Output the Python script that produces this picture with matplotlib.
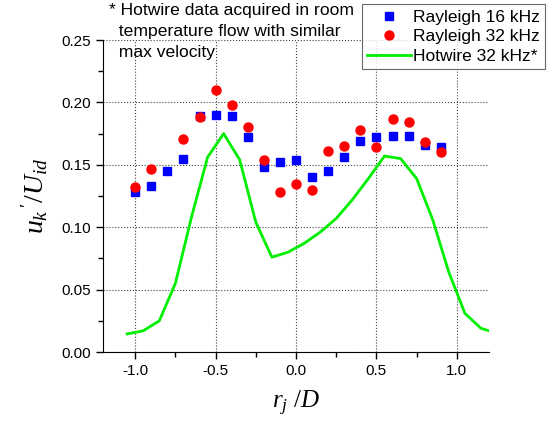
import matplotlib
matplotlib.use("Agg")
import matplotlib.pyplot as plt
import numpy as np
from matplotlib.ticker import MultipleLocator

plt.rcParams['font.family'] = ['Liberation Sans', 'DejaVu Sans']
plt.rcParams['mathtext.fontset'] = 'custom'
plt.rcParams['mathtext.rm'] = 'Liberation Serif'
plt.rcParams['mathtext.it'] = 'Liberation Serif:italic'

# Rayleigh 16 kHz (blue squares)
r16_x = [-1.0, -0.9, -0.8, -0.7, -0.6, -0.5, -0.4, -0.3, -0.2, -0.1,
         0.0, 0.1, 0.2, 0.3, 0.4, 0.5, 0.6, 0.7, 0.8, 0.9]
r16_y = [0.128, 0.133, 0.145, 0.155, 0.189, 0.190, 0.189, 0.172, 0.148, 0.152,
         0.154, 0.140, 0.145, 0.156, 0.169, 0.172, 0.173, 0.173, 0.166, 0.164]

# Rayleigh 32 kHz (red circles)
r32_x = [-1.0, -0.9, -0.7, -0.6, -0.5, -0.4, -0.3, -0.2, -0.1,
         0.0, 0.1, 0.2, 0.3, 0.4, 0.5, 0.6, 0.7, 0.8, 0.9]
r32_y = [0.132, 0.147, 0.171, 0.188, 0.210, 0.198, 0.180, 0.154, 0.128,
         0.135, 0.130, 0.161, 0.165, 0.178, 0.164, 0.187, 0.184, 0.168, 0.160]

# Hotwire 32 kHz (green line)
hw_x = [-1.05, -0.95, -0.85, -0.75, -0.65, -0.55, -0.45, -0.35, -0.25, -0.15,
        -0.05, 0.05, 0.15, 0.25, 0.35, 0.45, 0.55, 0.65, 0.75, 0.85,
        0.95, 1.05, 1.15, 1.2]
hw_y = [0.0145, 0.017, 0.025, 0.055, 0.108, 0.156, 0.175, 0.154, 0.104, 0.076,
        0.080, 0.087, 0.096, 0.107, 0.122, 0.139, 0.157, 0.155, 0.139, 0.106,
        0.064, 0.031, 0.019, 0.017]

fig = plt.figure(figsize=(5.47, 4.23), dpi=100)
ax = fig.add_axes([0.1883, 0.1678, 0.7057, 0.7376])

ax.plot(r16_x, r16_y, 's', color='#0000ff', markersize=6, label='Rayleigh 16 kHz', zorder=3)
ax.plot(r32_x, r32_y, 'o', color='#ff0000', markersize=6.5, label='Rayleigh 32 kHz', zorder=3)
ax.plot(hw_x, hw_y, '-', color='#00ee00', linewidth=2, label='Hotwire 32 kHz*', zorder=2)

ax.set_xlim(-1.2, 1.2)
ax.set_ylim(0, 0.25)
ax.xaxis.set_minor_locator(MultipleLocator(0.25))
ax.yaxis.set_major_locator(MultipleLocator(0.05))
ax.yaxis.set_minor_locator(MultipleLocator(0.025))
ax.set_xticks([-1.0, -0.5, 0.0, 0.5, 1.0])
ax.set_xticklabels(['-1.0', '-0.5', '0.0', '0.5', '1.0'])
ax.yaxis.set_major_formatter(matplotlib.ticker.FormatStrFormatter('%.2f'))

ax.spines['top'].set_visible(False)
ax.spines['right'].set_visible(False)
ax.tick_params(which='major', direction='out', length=5, width=1, labelsize=11)
ax.tick_params(which='minor', direction='out', length=3.5, width=1)
ax.grid(True, which='major', linestyle=':', color='#444444', linewidth=0.8)
ax.set_axisbelow(True)

ax.set_xlabel(r'$r_j\ /D$', fontsize=18, labelpad=8)
ax.set_ylabel(r"$u_k\,{}'/U_{id}$", fontsize=20, labelpad=8)

fig.text(0.199, 0.992, '* Hotwire data acquired in room\n  temperature flow with similar\n  max velocity',
         fontsize=12.6, va='top', ha='left', linespacing=1.5)

leg = ax.legend(loc='upper left', bbox_to_anchor=(0.662, 0.99), bbox_transform=fig.transFigure,
                fontsize=12.5, frameon=True, fancybox=False, edgecolor='#444444',
                handlelength=2.5, handletextpad=0.15, labelspacing=0.25, borderpad=0.3,
                borderaxespad=0)
leg.get_frame().set_linewidth(0.8)

fig.savefig('out.png', dpi=100)
